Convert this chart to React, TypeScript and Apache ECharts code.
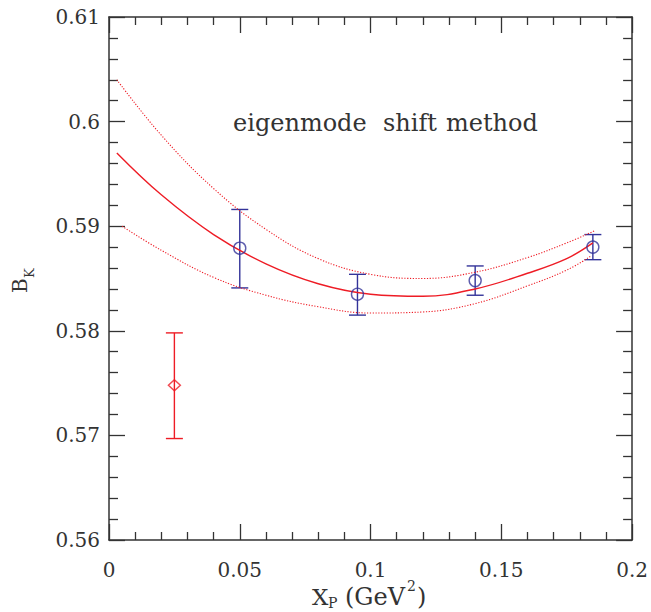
import React, { useEffect, useRef } from "react";
import * as echarts from "echarts";

// Lattice points (blue circles): x, value, error-bar low, error-bar high
const pointX = [0.05, 0.095, 0.14, 0.185];
const pointY = [0.5879, 0.5835, 0.5848, 0.5880];
const pointLow = [0.5841, 0.5815, 0.5834, 0.5868];
const pointHigh = [0.5916, 0.5854, 0.5862, 0.5892];

// Extrapolated point (red diamond)
const extraX = [0.025];
const extraY = [0.5748];
const extraLow = [0.5697];
const extraHigh = [0.5798];

// Fit curve and its error band
const fitX = [0.003, 0.02, 0.04, 0.06, 0.08, 0.1, 0.12, 0.14, 0.16, 0.175, 0.185];
const fitY = [0.597, 0.593, 0.5892, 0.5864, 0.5845, 0.5835, 0.5833, 0.584, 0.5855, 0.5869, 0.5884];
const upX = [0.003, 0.02, 0.04, 0.06, 0.08, 0.1, 0.12, 0.14, 0.16, 0.175, 0.186];
const upY = [0.604, 0.5987, 0.5936, 0.5897, 0.5869, 0.5854, 0.585, 0.5856, 0.587, 0.5884, 0.5896];
const loX = [0.005, 0.02, 0.04, 0.06, 0.08, 0.1, 0.12, 0.14, 0.16, 0.175, 0.184];
const loY = [0.59, 0.5877, 0.5851, 0.5834, 0.5823, 0.5817, 0.5818, 0.5826, 0.5843, 0.5858, 0.5871];

const xTicks = ["0", "0.05", "0.1", "0.15", "0.2"];
const yTicks = ["0.56", "0.57", "0.58", "0.59", "0.6", "0.61"];

const RED = "#ee1c25";
const BLUE = "#333399";
const INK = "#333333";
const FONT = "DejaVu Serif";

const zip = (a: number[], b: number[]) => a.map((v, i) => [v, b[i]]);

function errorBarSeries(xs: number[], lo: number[], hi: number[], color: string) {
  return {
    type: "custom",
    xAxisIndex: 0,
    yAxisIndex: 0,
    silent: true,
    z: 3,
    data: xs.map((x, i) => [x, lo[i], hi[i]]),
    renderItem: (params: any, api: any) => {
      const x = api.value(0);
      const p1 = api.coord([x, api.value(1)]);
      const p2 = api.coord([x, api.value(2)]);
      const hw = 8.5;
      const style = { stroke: color, lineWidth: 1.4 };
      return {
        type: "group",
        children: [
          { type: "line", shape: { x1: p1[0], y1: p1[1], x2: p2[0], y2: p2[1] }, style },
          { type: "line", shape: { x1: p1[0] - hw, y1: p1[1], x2: p1[0] + hw, y2: p1[1] }, style },
          { type: "line", shape: { x1: p2[0] - hw, y1: p2[1], x2: p2[0] + hw, y2: p2[1] }, style },
        ],
      };
    },
  };
}

function xAxisDef(pos: "bottom" | "top") {
  return {
    type: "value",
    position: pos,
    min: 0,
    max: 0.2,
    interval: 0.05,
    axisLine: { show: true, onZero: false, lineStyle: { color: INK, width: 1.5 } },
    axisTick: { show: true, inside: true, length: 16, lineStyle: { color: INK, width: 1.3 } },
    minorTick: { show: true, splitNumber: 5, length: 8, lineStyle: { color: INK, width: 1.3 } },
    splitLine: { show: false },
    minorSplitLine: { show: false },
    axisLabel: {
      show: pos === "bottom",
      margin: 20,
      fontFamily: FONT,
      fontSize: 20,
      color: INK,
      formatter: (v: number) => xTicks[Math.round(v / 0.05)] ?? "",
    },
  };
}

function yAxisDef(pos: "left" | "right") {
  return {
    type: "value",
    position: pos,
    min: 0.56,
    max: 0.61,
    interval: 0.01,
    axisLine: { show: true, onZero: false, lineStyle: { color: INK, width: 1.5 } },
    axisTick: { show: true, inside: true, length: 16, lineStyle: { color: INK, width: 1.3 } },
    minorTick: { show: true, splitNumber: 5, length: 9, lineStyle: { color: INK, width: 1.3 } },
    splitLine: { show: false },
    minorSplitLine: { show: false },
    axisLabel: {
      show: pos === "left",
      margin: 9,
      fontFamily: FONT,
      fontSize: 20,
      color: INK,
      formatter: (v: number) => yTicks[Math.round((v - 0.56) / 0.01)] ?? "",
    },
  };
}

export default function App() {
  const ref = useRef<HTMLDivElement>(null);

  useEffect(() => {
    document.body.style.margin = "0";
    if (!ref.current) return;
    const chart = echarts.init(ref.current, null, { renderer: "svg" });
    const textStyle = (size: number) => ({ fill: INK, fontFamily: FONT, fontSize: size });
    chart.setOption({
      animation: false,
      backgroundColor: "#ffffff",
      grid: { left: 109, right: 18, top: 17, bottom: 72, containLabel: false },
      xAxis: [xAxisDef("bottom"), xAxisDef("top")],
      yAxis: [yAxisDef("left"), yAxisDef("right")],
      series: [
        {
          type: "line",
          data: zip(upX, upY),
          smooth: 0.4,
          showSymbol: false,
          silent: true,
          lineStyle: { color: RED, width: 1.1, type: [1.2, 1.6] },
        },
        {
          type: "line",
          data: zip(loX, loY),
          smooth: 0.4,
          showSymbol: false,
          silent: true,
          lineStyle: { color: RED, width: 1.1, type: [1.2, 1.6] },
        },
        {
          type: "line",
          data: zip(fitX, fitY),
          smooth: 0.4,
          showSymbol: false,
          silent: true,
          lineStyle: { color: RED, width: 1.4 },
        },
        errorBarSeries(pointX, pointLow, pointHigh, BLUE),
        errorBarSeries(extraX, extraLow, extraHigh, RED),
        {
          type: "scatter",
          data: zip(pointX, pointY),
          symbol: "circle",
          symbolSize: 12,
          silent: true,
          z: 4,
          itemStyle: { color: "rgba(255,255,255,0)", borderColor: BLUE, borderWidth: 1.4 },
        },
        {
          type: "scatter",
          data: zip(extraX, extraY),
          symbol: "diamond",
          symbolSize: [12, 11],
          silent: true,
          z: 4,
          itemStyle: { color: "rgba(255,255,255,0)", borderColor: RED, borderWidth: 1.4 },
        },
      ],
      graphic: [
        { type: "text", x: 233, y: 111, style: { text: "eigenmode", ...textStyle(24) } },
        { type: "text", x: 383, y: 111, style: { text: "shift", ...textStyle(24) } },
        { type: "text", x: 446, y: 111, style: { text: "method", ...textStyle(24) } },
        { type: "text", x: 312, y: 585, style: { text: "X", ...textStyle(23) } },
        { type: "text", x: 328, y: 596, style: { text: "P", ...textStyle(14) } },
        { type: "text", x: 345, y: 585, style: { text: "(GeV", ...textStyle(24) } },
        { type: "text", x: 407, y: 579, style: { text: "2", ...textStyle(14) } },
        { type: "text", x: 417, y: 585, style: { text: ")", ...textStyle(24) } },
        {
          type: "group",
          x: 28,
          y: 293,
          rotation: Math.PI / 2,
          children: [
            { type: "text", x: 0, y: -18, style: { text: "B", ...textStyle(20) } },
            { type: "text", x: 15, y: -5, style: { text: "K", ...textStyle(13) } },
          ],
        },
      ],
    });
    return () => chart.dispose();
  }, []);

  return <div ref={ref} style={{ width: 651, height: 612 }} />;
}
